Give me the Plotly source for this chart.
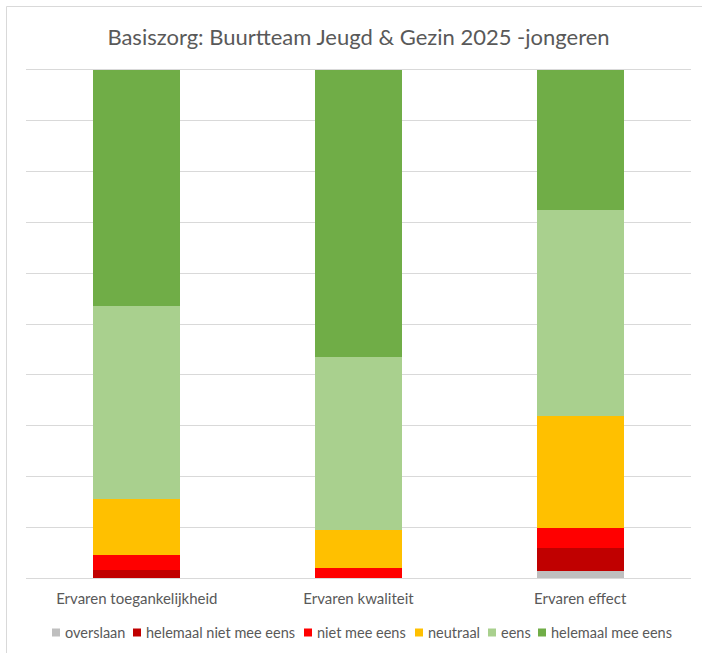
import plotly.graph_objects as go

categories = ["Ervaren toegankelijkheid", "Ervaren kwaliteit", "Ervaren effect"]
series_names = ["overslaan", "helemaal niet mee eens", "niet mee eens", "neutraal", "eens", "helemaal mee eens"]
overslaan = [0.0, 0.0, 1.4]
helemaal_niet_mee_eens = [1.5, 0.0, 4.5]
niet_mee_eens = [3.0, 2.0, 4.0]
neutraal = [11.0, 7.5, 22.0]
eens = [38.0, 34.0, 40.6]
helemaal_mee_eens = [46.5, 56.5, 27.5]
colors = ["#BFBFBF", "#C00000", "#FF0000", "#FFC000", "#A9D08E", "#70AD47"]

values = [overslaan, helemaal_niet_mee_eens, niet_mee_eens, neutraal, eens, helemaal_mee_eens]

W, H = 702, 653
L, R, T, B = 26, 11, 70, 75
PW, PH = W - L - R, H - T - B


def px_x(px):
    return (px - L) / PW


def px_y(py):
    return (H - B - py) / PH


fig = go.Figure()
for name, vals, col in zip(series_names, values, colors):
    fig.add_trace(go.Bar(
        x=categories, y=vals, name=name,
        marker=dict(color=col, line=dict(width=0)),
        hoverinfo="name+y",
    ))

font_family = "Lato, 'Open Sans', sans-serif"
grey = "#595959"
fig.update_layout(
    barmode="stack",
    bargap=0.608,
    width=W, height=H,
    margin=dict(l=L, r=R, t=T, b=B, autoexpand=False),
    paper_bgcolor="white",
    plot_bgcolor="white",
    showlegend=False,
    title=dict(
        text="Basiszorg: Buurtteam Jeugd &amp; Gezin 2025 -jongeren",
        xref="paper", x=0.5, xanchor="center", y=1 - 37 / H, yanchor="middle",
        font=dict(family=font_family, size=22, color=grey),
    ),
    font=dict(family=font_family, size=14.5, color=grey),
    xaxis=dict(
        showgrid=False, showline=True, mirror=True, linecolor="#D9D9D9", linewidth=1,
        ticks="", tickfont=dict(size=15, color=grey), ticklabelstandoff=7,
    ),
    yaxis=dict(
        range=[0, 100], dtick=10, showgrid=True, gridcolor="#D9D9D9", gridwidth=1,
        showticklabels=False, zeroline=False, showline=False, ticks="",
    ),
)

# outer chart frame (left and top edges visible)
fig.add_shape(
    type="rect", xref="paper", yref="paper",
    x0=px_x(6.5), x1=px_x(W + 5), y0=px_y(H + 5), y1=px_y(6.5),
    line=dict(color="#D9D9D9", width=1), fillcolor="rgba(0,0,0,0)", layer="below",
)

# legend drawn manually to match compact layout
legend_square_px = [52, 133, 304, 415, 488, 538]
legend_y_px = 632.5
sq = 8
for name, col, sx in zip(series_names, colors, legend_square_px):
    fig.add_shape(
        type="rect", xref="paper", yref="paper",
        x0=px_x(sx), x1=px_x(sx + sq),
        y0=px_y(legend_y_px + sq / 2), y1=px_y(legend_y_px - sq / 2),
        line=dict(width=0), fillcolor=col,
    )
    fig.add_annotation(
        text=name, xref="paper", yref="paper",
        x=px_x(sx + sq + 3), y=px_y(legend_y_px), xanchor="left", yanchor="middle",
        showarrow=False, font=dict(family=font_family, size=14.5, color=grey),
    )

fig.write_html(
    "out.html",
    config={"displayModeBar": False},
    post_script="document.body.style.margin='0';document.body.style.overflow='hidden';",
)
